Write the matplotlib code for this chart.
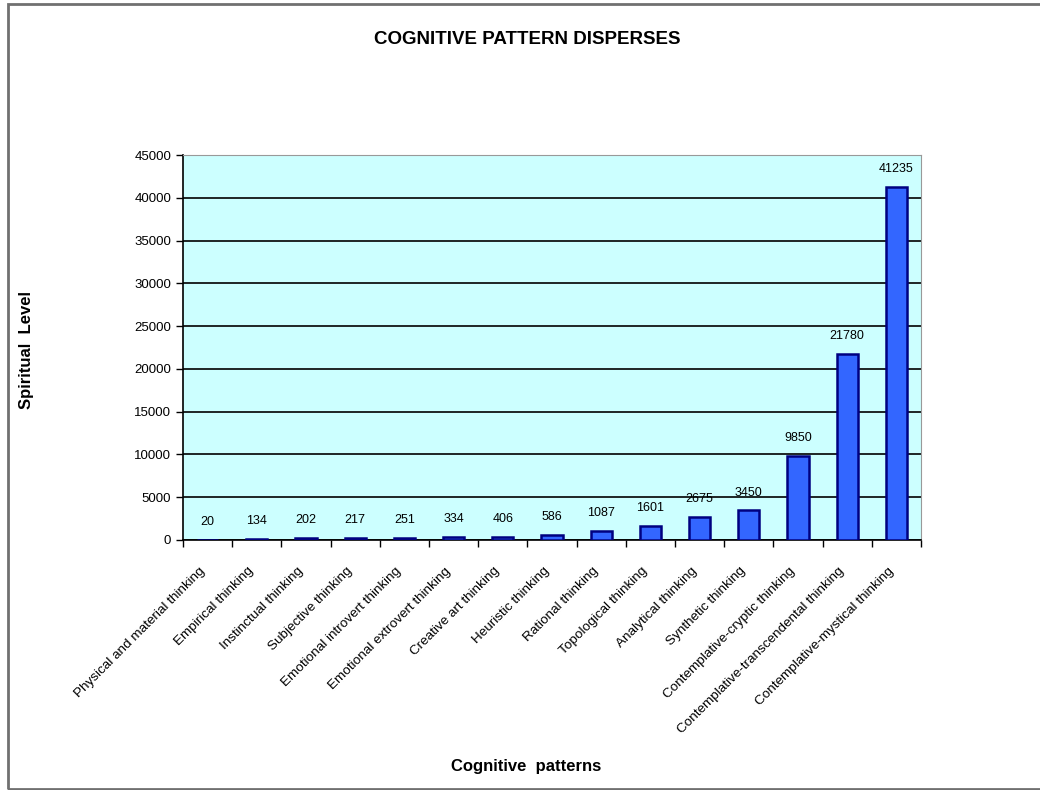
import matplotlib
matplotlib.use("Agg")
from matplotlib import pyplot as plt
from matplotlib.patches import Rectangle
from matplotlib.transforms import ScaledTranslation
import numpy as np

plt.rcParams['font.family'] = ['Liberation Sans', 'DejaVu Sans']

patterns = [
    "Physical and material thinking",
    "Empirical thinking",
    "Instinctual thinking",
    "Subjective thinking",
    "Emotional introvert thinking",
    "Emotional extrovert thinking",
    "Creative art thinking",
    "Heuristic thinking",
    "Rational thinking",
    "Topological thinking",
    "Analytical thinking",
    "Synthetic thinking",
    "Contemplative-cryptic thinking",
    "Contemplative-transcendental thinking",
    "Contemplative-mystical thinking",
]
levels = [20, 134, 202, 217, 251, 334, 406, 586, 1087, 1601, 2675, 3450, 9850, 21780, 41235]
y_ticks = np.arange(0, 45001, 5000)

fig = plt.figure(figsize=(10.4, 7.9), dpi=100)
fig.patches.append(Rectangle((8 / 1040, 1 / 790), 1.1, 785 / 790, transform=fig.transFigure,
                             fill=False, edgecolor='#707070', linewidth=2))

ax = fig.add_axes([183 / 1040, 1 - 540 / 790, 738 / 1040, 385 / 790])
ax.set_facecolor('#CCFFFF')

x = np.arange(len(patterns))
ax.bar(x, levels, width=0.43, color='#3366FF', edgecolor='#000080', linewidth=1.8, zorder=3)
for xi, v in zip(x, levels):
    ax.annotate(f"{v}", (xi, v), xytext=(0, 8.5), textcoords='offset points',
                ha='center', va='bottom', fontsize=9)

ax.set_xlim(-0.5, len(patterns) - 0.5)
ax.set_ylim(0, 45000)
ax.set_yticks(y_ticks)
ax.set_yticklabels([str(t) for t in y_ticks], fontsize=9.5)
ax.yaxis.grid(True, color='black', linewidth=1.2, zorder=1)
ax.set_axisbelow(True)

# category boundary ticks, labels in between
ax.set_xticks(np.arange(-0.5, len(patterns)), minor=False)
ax.set_xticklabels([])
ax.set_xticks(x, minor=True)
ax.set_xticklabels(patterns, minor=True, rotation=45, ha='right', rotation_mode='anchor',
                   fontsize=9.7)
ax.tick_params(axis='x', which='minor', length=0, pad=18)
ax.tick_params(axis='x', which='major', length=5, width=1)
ax.tick_params(axis='y', length=5, width=1)
shift = ScaledTranslation(-9 / 100, 0, fig.dpi_scale_trans)
for lab in ax.get_xticklabels(minor=True):
    lab.set_transform(lab.get_transform() + shift)

for side in ['top', 'right']:
    ax.spines[side].set_color('#999999')
for side in ['left', 'bottom']:
    ax.spines[side].set_color('black')
    ax.spines[side].set_linewidth(1.2)

fig.text(527 / 1040, 1 - 39 / 790, "COGNITIVE PATTERN DISPERSES", ha='center', va='center',
         fontsize=13.5, fontweight='bold')
fig.text(26 / 1040, 1 - 350 / 790, "Spiritual  Level", ha='center', va='center',
         rotation=90, fontsize=12, fontweight='bold')
fig.text(526 / 1040, 1 - 766 / 790, "Cognitive  patterns", ha='center', va='center',
         fontsize=12, fontweight='bold')

fig.savefig("out.png", dpi=100)
